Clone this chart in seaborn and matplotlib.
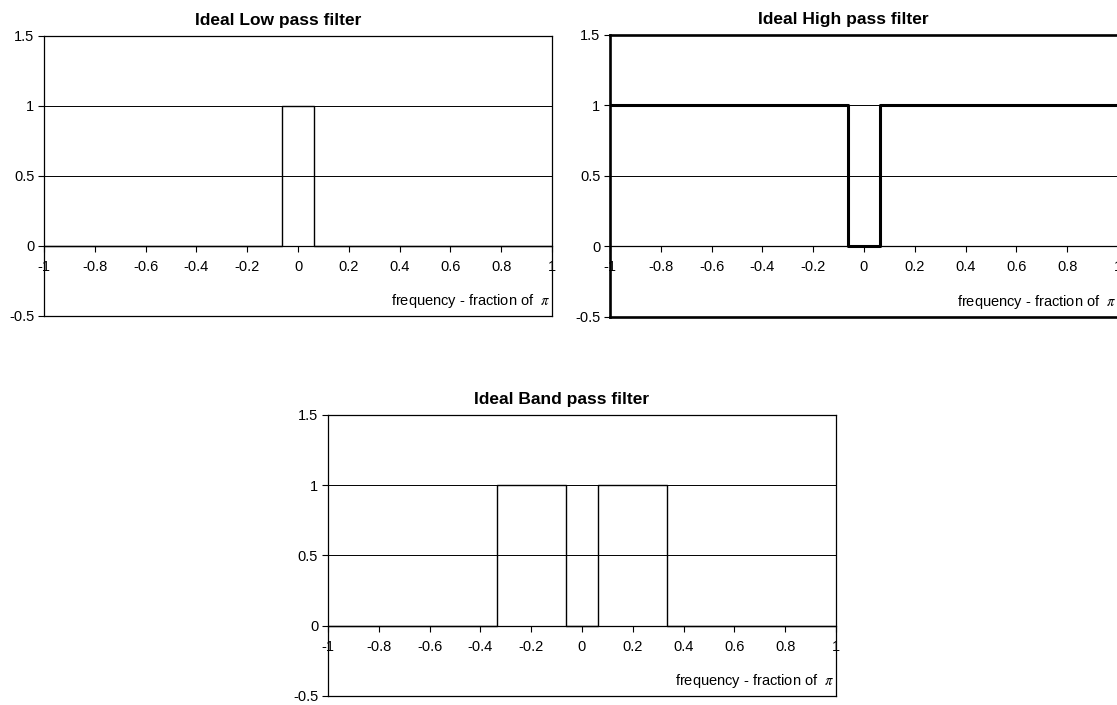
import matplotlib
matplotlib.use("Agg")
import matplotlib.pyplot as plt
import seaborn as sns
import pandas as pd

# Ideal filter responses: breakpoints (fraction of pi) and gain from each breakpoint on
low_freq = [-1.0, -0.0625, 0.0625, 1.0]
low_gain = [0, 1, 0, 0]

high_freq = [-1.0, -0.0625, 0.0625, 1.0]
high_gain = [1, 0, 1, 1]

band_freq = [-1.0, -0.3333, -0.0625, 0.0625, 0.3333, 1.0]
band_gain = [0, 1, 0, 1, 0, 0]

x_ticks = [-1, -0.8, -0.6, -0.4, -0.2, 0, 0.2, 0.4, 0.6, 0.8, 1]
x_tick_labels = ["-1", "-0.8", "-0.6", "-0.4", "-0.2", "0", "0.2", "0.4", "0.6", "0.8", "1"]
y_ticks = [-0.5, 0, 0.5, 1, 1.5]
y_tick_labels = ["-0.5", "0", "0.5", "1", "1.5"]

titles = ["Ideal Low pass filter", "Ideal High pass filter", "Ideal Band pass filter"]
x_label = "frequency - fraction of  $\\pi$"

sns.set_style("white")
plt.rcParams["font.family"] = ["Liberation Sans", "DejaVu Sans"]
plt.rcParams["mathtext.fontset"] = "stix"
plt.rcParams["axes.unicode_minus"] = False
plt.rcParams["text.color"] = "black"
plt.rcParams["axes.titlecolor"] = "black"
plt.rcParams["xtick.color"] = "black"
plt.rcParams["ytick.color"] = "black"
plt.rcParams["xtick.labelcolor"] = "black"
plt.rcParams["ytick.labelcolor"] = "black"

fig = plt.figure(figsize=(11.17, 7.05), dpi=100)
fig.patch.set_facecolor("white")

panels = [
    (titles[0], low_freq, low_gain, [0.0394, 0.5518, 0.4548, 0.3972], 1.0, 0.9),
    (titles[1], high_freq, high_gain, [0.5461, 0.5504, 0.4548, 0.4000], 2.2, 1.9),
    (titles[2], band_freq, band_gain, [0.2936, 0.0128, 0.4548, 0.3986], 1.0, 0.9),
]

for title, freq, gain, rect, lw, frame_lw in panels:
    ax = fig.add_axes(rect)
    df = pd.DataFrame({"freq": freq, "gain": gain})
    ax.yaxis.grid(True, color="black", linewidth=0.7)
    ax.set_axisbelow(True)
    sns.lineplot(data=df, x="freq", y="gain", ax=ax, color="black",
                 linewidth=lw, drawstyle="steps-post", sort=False,
                 estimator=None, legend=False, zorder=3)
    ax.set_xlim(-1, 1)
    ax.set_ylim(-0.5, 1.5)
    ax.set_yticks(y_ticks)
    ax.set_yticklabels(y_tick_labels, fontsize=10.5, color="black")
    ax.tick_params(axis="y", direction="out", length=4, width=0.8, pad=3,
                   left=True, colors="black")
    ax.set_xticks([])
    ax.set_xlabel("")
    ax.set_ylabel("")
    for side in ["left", "right", "top", "bottom"]:
        ax.spines[side].set_visible(True)
        ax.spines[side].set_color("black")
        ax.spines[side].set_linewidth(frame_lw)

    # x axis crossing at gain 0 with ticks hanging below it
    xax = ax.secondary_xaxis(0.25)
    xax.set_xticks(x_ticks)
    xax.set_xticklabels(x_tick_labels, fontsize=10.5, color="black")
    xax.tick_params(direction="out", length=4, width=0.8, pad=6, colors="black")
    xax.spines["bottom"].set_linewidth(0.9)
    xax.spines["bottom"].set_color("black")

    ax.text(0.997, 0.02, x_label, transform=ax.transAxes, ha="right",
            va="bottom", fontsize=10.5, color="black")
    ax.set_title(title, fontsize=12.5, fontweight="bold", pad=8, x=0.46,
                 color="black")

fig.savefig("out.png", dpi=100, facecolor="white")
